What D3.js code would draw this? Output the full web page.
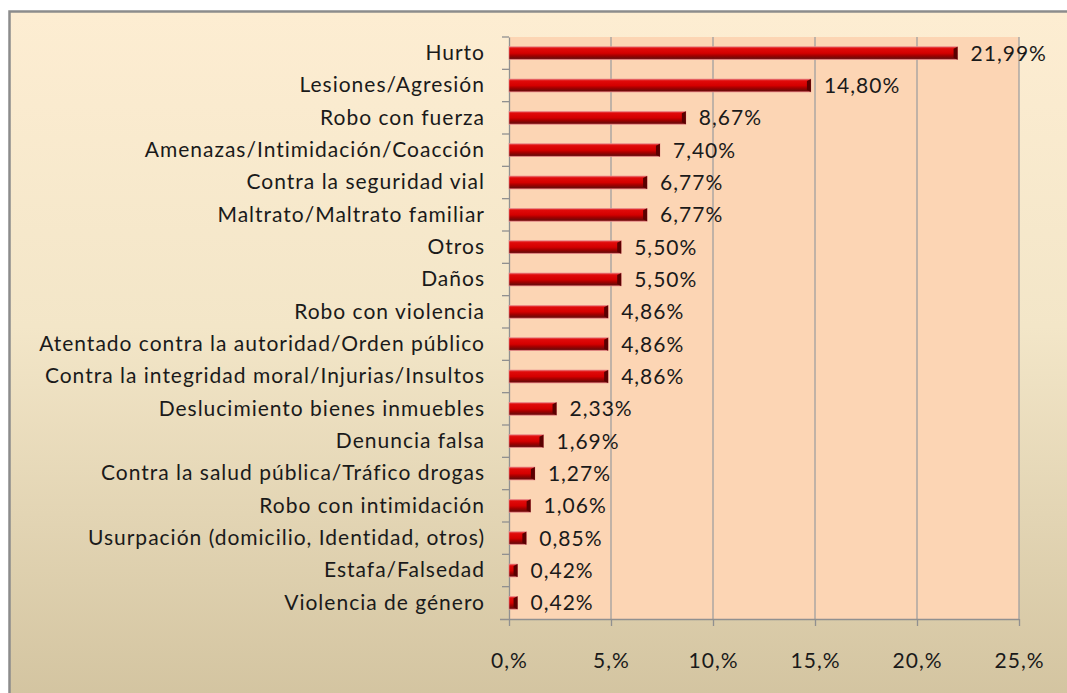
<!DOCTYPE html>
<html><head><meta charset="utf-8">
<script src="https://cdn.jsdelivr.net/npm/d3@7"></script>
<style>body{margin:0;background:#fff}svg{display:block}text{font-family:Lato,"Open Sans",sans-serif;fill:#1a1a1a}</style>
</head><body>
<svg id="c" width="1067" height="693"></svg>
<script>
const categories = ["Hurto","Lesiones/Agresión","Robo con fuerza","Amenazas/Intimidación/Coacción","Contra la seguridad vial","Maltrato/Maltrato familiar","Otros","Daños","Robo con violencia","Atentado contra la autoridad/Orden público","Contra la integridad moral/Injurias/Insultos","Deslucimiento bienes inmuebles","Denuncia falsa","Contra la salud pública/Tráfico drogas","Robo con intimidación","Usurpación (domicilio, Identidad, otros)","Estafa/Falsedad","Violencia de género"];
const values = [21.99,14.80,8.67,7.40,6.77,6.77,5.50,5.50,4.86,4.86,4.86,2.33,1.69,1.27,1.06,0.85,0.42,0.42];
const valueLabels = ["21,99%","14,80%","8,67%","7,40%","6,77%","6,77%","5,50%","5,50%","4,86%","4,86%","4,86%","2,33%","1,69%","1,27%","1,06%","0,85%","0,42%","0,42%"];
const xTicks = [0,5,10,15,20,25];
const xTickLabels = ["0,%","5,%","10,%","15,%","20,%","25,%"];

const svg = d3.select("#c");
const defs = svg.append("defs");
const bg = defs.append("linearGradient").attr("id","bg").attr("x1",0).attr("y1",0).attr("x2",0).attr("y2",1);
bg.append("stop").attr("offset","0%").attr("stop-color","#fdedd2");
bg.append("stop").attr("offset","45%").attr("stop-color","#f3e6c8");
bg.append("stop").attr("offset","100%").attr("stop-color","#d2c39f");
const bar = defs.append("linearGradient").attr("id","bar").attr("x1",0).attr("y1",0).attr("x2",0).attr("y2",1);
[["0%","#e86060"],["15%","#e00a0a"],["50%","#d40000"],["70%","#a00000"],["90%","#6e0a0a"],["100%","#c05050"]].forEach(s=>bar.append("stop").attr("offset",s[0]).attr("stop-color",s[1]));

svg.append("rect").attr("x",9.5).attr("y",11.5).attr("width",1070).attr("height",700)
  .attr("fill","url(#bg)").attr("stroke","#8c8c8c").attr("stroke-width",2.5);

const m = {left:509, right:1019, top:37, bottom:619};
const x = d3.scaleLinear().domain([0,25]).range([m.left,m.right]);
const y = d3.scaleBand().domain(categories).range([m.top,m.bottom]);

svg.append("rect").attr("x",m.left).attr("y",m.top).attr("width",m.right-m.left).attr("height",m.bottom-m.top).attr("fill","#fcd5b4");

// gridlines
svg.append("g").selectAll("line").data(xTicks.slice(1)).join("line")
  .attr("x1",d=>x(d)).attr("x2",d=>x(d)).attr("y1",m.top).attr("y2",m.bottom)
  .attr("stroke","#a0a0a0").attr("stroke-width",1.3);

const fs = "21px", ls = "1px";
// x axis
const xa = svg.append("g").attr("transform",`translate(0,${m.bottom})`)
  .call(d3.axisBottom(x).tickValues(xTicks).tickFormat((d,i)=>xTickLabels[i]).tickSize(7).tickPadding(27).tickSizeOuter(0));
xa.select(".domain").attr("stroke","#909090").attr("stroke-width",1.3).attr("d",`M${m.left-9},0.5H${m.right}`);
xa.selectAll(".tick line").attr("stroke","#909090").attr("stroke-width",1.3);
xa.selectAll("text").style("font-size",fs).style("letter-spacing",ls).attr("fill","#1a1a1a");

// y axis
const ya = svg.append("g").attr("transform",`translate(${m.left},0)`)
  .call(d3.axisLeft(y).tickSize(0).tickPadding(24));
ya.select(".domain").attr("stroke","#909090").attr("stroke-width",1.3);
ya.selectAll("text").style("font-size",fs).style("letter-spacing",ls).attr("fill","#1a1a1a");
// band ticks
svg.append("g").selectAll("line").data(categories).join("line")
  .attr("x1",m.left-7).attr("x2",m.left).attr("y1",d=>y(d)).attr("y2",d=>y(d))
  .attr("stroke","#909090").attr("stroke-width",1.3);

// bars
const bh = 13;
const g = svg.append("g");
g.selectAll("rect.b").data(values).join("rect").attr("class","b")
  .attr("x",x(0)).attr("y",(d,i)=>y(categories[i])+y.bandwidth()/2-bh/2)
  .attr("width",d=>x(d)-x(0)).attr("height",bh).attr("fill","url(#bar)")
  .attr("stroke","#e89090").attr("stroke-width",0.6);
// end caps
g.selectAll("path.cap").data(values).join("path").attr("class","cap")
  .attr("d",(d,i)=>{const xe=x(d), yc=y(categories[i])+y.bandwidth()/2; return `M${xe},${yc-bh/2}L${xe},${yc+bh/2}L${xe-4},${yc+bh/2-2}L${xe-4},${yc-bh/2+2}Z`;})
  .attr("fill","#5a0000");

// value labels
g.selectAll("text.v").data(values).join("text").attr("class","v")
  .attr("x",d=>x(d)+13).attr("y",(d,i)=>y(categories[i])+y.bandwidth()/2)
  .attr("dy","0.35em").style("font-size",fs).style("letter-spacing",ls).text((d,i)=>valueLabels[i]);
</script>
</body></html>
